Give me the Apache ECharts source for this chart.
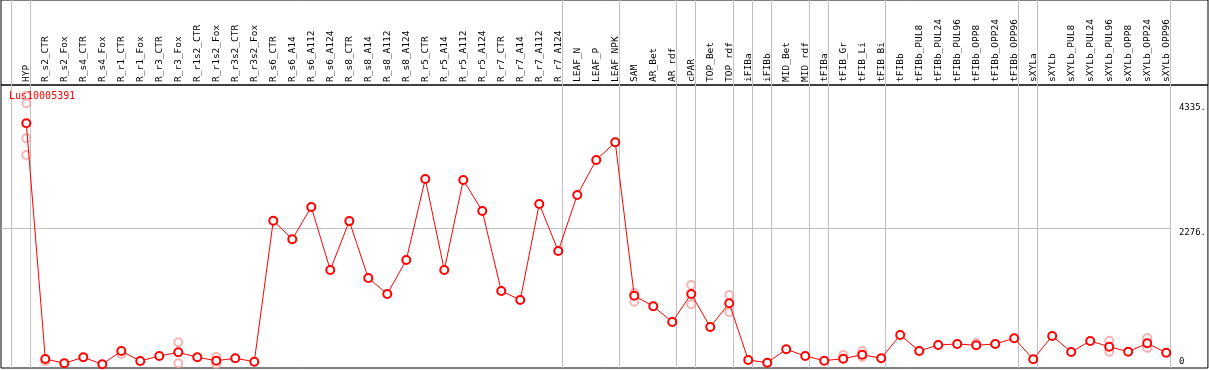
<!DOCTYPE html>
<html>
<head>
<meta charset="utf-8">
<script src="https://cdn.jsdelivr.net/npm/echarts@6/dist/echarts.min.js"></script>
<style>
html,body{margin:0;padding:0;background:#fff;}
#chart{width:1209px;height:370px;}
</style>
</head>
<body>
<div id="chart"></div>
<script>
const titleText = 'Lus10005391';
const categories = ['HYP','R_s2_CTR','R_s2_Fox','R_s4_CTR','R_s4_Fox','R_r1_CTR','R_r1_Fox','R_r3_CTR','R_r3_Fox','R_r1s2_CTR','R_r1s2_Fox','R_r3s2_CTR','R_r3s2_Fox','R_s6_CTR','R_s6_A14','R_s6_A112','R_s6_A124','R_s8_CTR','R_s8_A14','R_s8_A112','R_s8_A124','R_r5_CTR','R_r5_A14','R_r5_A112','R_r5_A124','R_r7_CTR','R_r7_A14','R_r7_A112','R_r7_A124','LEAF_N','LEAF_P','LEAF_NPK','SAM','AR_Bet','AR_rdf','cPAR','TOP_Bet','TOP_rdf','iFIBa','iFIBb','MID_Bet','MID_rdf','tFIBa','tFIB_Gr','tFIB_Li','tFIB_Bi','tFIBb','tFIBb_PUL8','tFIBb_PUL24','tFIBb_PUL96','tFIBb_OPP8','tFIBb_OPP24','tFIBb_OPP96','sXYLa','sXYLb','sXYLb_PUL8','sXYLb_PUL24','sXYLb_PUL96','sXYLb_OPP8','sXYLb_OPP24','sXYLb_OPP96'];
const meanValues = [4005,114,43,142,26,246,81,163,224,142,86,125,69,2397,2090,2624,1583,2390,1451,1187,1748,3086,1583,3069,2557,1237,1088,2673,1897,2822,3400,3692,1159,984,725,1187,642,1034,97,53,274,163,86,119,185,125,510,246,345,362,340,362,456,109,494,229,411,317,234,373,218];
// replicate measurements (lighter circles)
const repCategories = ['HYP','HYP','HYP','HYP','R_s2_CTR','R_r1_CTR','R_r3_Fox','R_r3_Fox','R_r1s2_Fox','R_r1s2_Fox','SAM','SAM','cPAR','cPAR','TOP_rdf','TOP_rdf','tFIB_Gr','tFIB_Li','tFIB_Li','tFIBb_OPP8','sXYLb_PUL96','sXYLb_PUL96','sXYLb_OPP24','sXYLb_OPP24'];
const repValues = [4455,4335,3758,3482,81,196,390,43,147,31,1060,1204,1336,1017,1171,885,180,246,147,378,416,234,461,296];
// index of last category in each group (group separators)
const groupEnds = [-1,0,28,31,34,35,37,38,39,41,42,45,52,53,60];
const yTickValues = [2276,4335];
const yZeroTick = [0];
const gridlineValue = 2276;

const FONT = 'DejaVu Sans Mono';
const X_MIN = -1.332, X_MAX = 62.195;
const Y_MIN = -35, Y_MAX = 4637;
const SEP_OFF = 0.21;
const catIndex = {};
categories.forEach((c,i)=>catIndex[c]=i);

const mainData = meanValues.map((v,i)=>[i,v]);
const repData = repCategories.map((c,k)=>[catIndex[c], repValues[k]]);
const sepLines = groupEnds.map(i=>({xAxis: i + SEP_OFF}));

const chart = echarts.init(document.getElementById('chart'), null, {renderer:'canvas'});
chart.setOption({
  animation:false,
  backgroundColor:'#fff',
  title:{text:titleText,left:9,top:91,padding:0,textStyle:{color:'#ff0000',fontSize:10,fontWeight:'normal',fontFamily:FONT}},
  grid:[
    {left:1,right:1,top:85,bottom:2,show:true,borderColor:'#000',borderWidth:1,backgroundColor:'transparent'},
    {left:1,right:1,top:0,height:85,show:true,borderColor:'#000',borderWidth:1,backgroundColor:'transparent'}
  ],
  xAxis:[
    {type:'value',gridIndex:0,position:'top',min:X_MIN,max:X_MAX,
     splitLine:{show:false},axisLine:{show:false},axisTick:{show:false},
     axisLabel:{customValues:categories.map((c,i)=>i),rotate:90,margin:3,fontSize:9.5,fontFamily:FONT,color:'#000',
       formatter:(v)=>categories[Math.round(v)]}},
    {type:'value',gridIndex:1,min:X_MIN,max:X_MAX,show:false}
  ],
  yAxis:[
    {type:'value',gridIndex:0,position:'right',min:Y_MIN,max:Y_MAX,
     splitLine:{show:false},axisLine:{show:false},axisTick:{show:false},
     axisLabel:{customValues:yTickValues,inside:true,align:'left',verticalAlign:'top',margin:29,fontSize:9,fontFamily:FONT,color:'#000',
       formatter:(v)=>v+'.'}},
    {type:'value',gridIndex:0,position:'right',min:Y_MIN,max:Y_MAX,
     splitLine:{show:false},axisLine:{show:false},axisTick:{show:false},
     axisLabel:{customValues:yZeroTick,inside:true,align:'left',verticalAlign:'bottom',margin:29,fontSize:9,fontFamily:FONT,color:'#000',
       formatter:(v)=>String(v)}},
    {type:'value',gridIndex:1,min:0,max:1,show:false}
  ],
  series:[
    {type:'line',xAxisIndex:1,yAxisIndex:2,data:[],silent:true,
     markLine:{silent:true,symbol:'none',label:{show:false},lineStyle:{color:'#c0c0c0',width:1,type:'solid'},data:sepLines}},
    {type:'scatter',xAxisIndex:0,yAxisIndex:0,data:repData,symbol:'emptyCircle',symbolSize:8,z:2,silent:true,
     itemStyle:{color:'#f2a0a0',borderColor:'#f2a0a0',borderWidth:1.5}},
    {type:'line',xAxisIndex:0,yAxisIndex:0,data:mainData,symbol:'emptyCircle',symbolSize:8,z:3,silent:true,
     lineStyle:{color:'#ff0000',width:1},itemStyle:{color:'#ff0000',borderColor:'#ff0000',borderWidth:1.5},
     markLine:{silent:true,symbol:'none',label:{show:false},lineStyle:{color:'#c0c0c0',width:1,type:'solid'},z:1,
       data:sepLines.concat([[{coord:[X_MIN,gridlineValue]},{coord:[60+SEP_OFF,gridlineValue]}]])}}
  ]
});
</script>
</body>
</html>
